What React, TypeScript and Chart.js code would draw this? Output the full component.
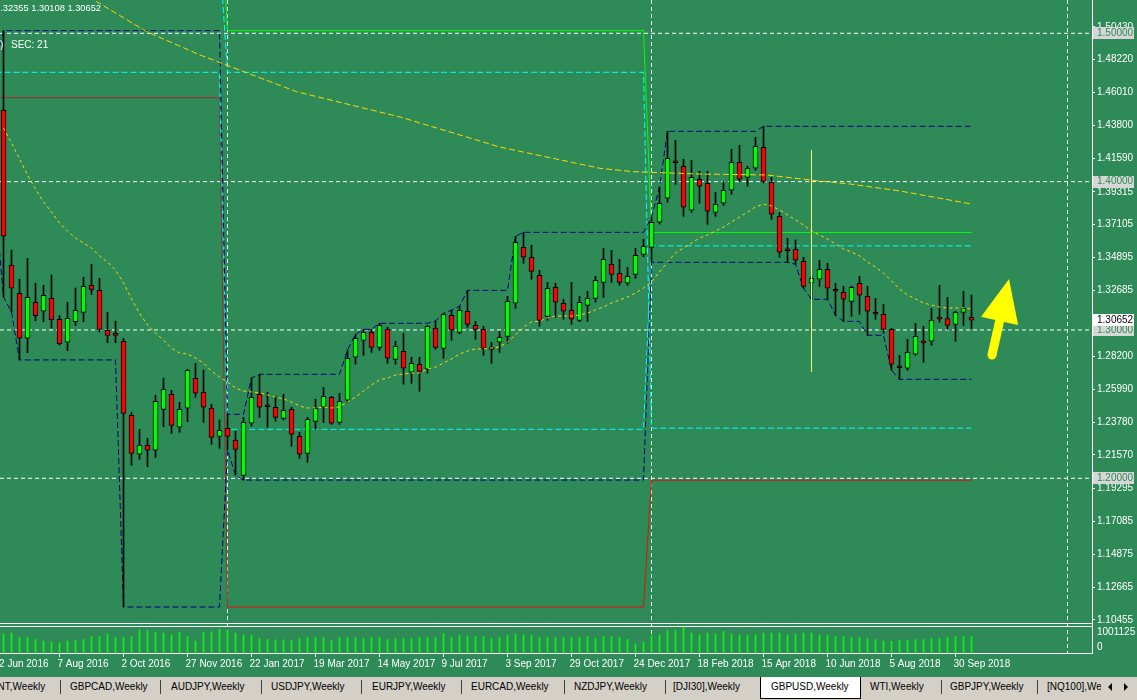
import React, { useEffect, useRef } from "react";
import { Chart, registerables } from "chart.js";

Chart.register(...registerables);

const BG = "#2E8B57";
const FONT = "'Liberation Sans', Arial, sans-serif";

// GBPUSD weekly candles, first visible bar = week of 19 Jun 2016
const opens = [1.4483,1.3438,1.3247,1.2944,1.3187,1.3126,1.3213,1.3072,1.2917,1.3056,
1.3119,1.3301,1.3267,1.2998,1.2971,1.2924,1.2425,1.2162,1.2222,1.2189,
1.2465,1.2566,1.2344,1.2472,1.2674,1.2580,1.2472,1.2283,1.2337,1.2256,
1.2020,1.2371,1.2566,1.2489,1.2479,1.2404,1.2465,1.2283,1.2168,1.2384,
1.2479,1.2546,1.2377,1.2526,1.2816,1.2930,1.2984,1.2883,1.3004,1.2802,
1.2856,1.2715,1.2769,1.2735,1.3011,1.2876,1.3099,1.2984,1.3126,1.3031,
1.3004,1.2875,1.2917,1.2957,1.3180,1.3557,1.3490,1.3369,1.3092,1.3288,
1.3180,1.3133,1.3065,1.3166,1.3213,1.3321,1.3443,1.3382,1.3315,1.3375,
1.3510,1.3557,1.3726,1.3888,1.4134,1.4103,1.3807,1.4016,1.3989,1.3793,
1.3854,1.3942,1.4130,1.4029,1.4090,1.4231,1.3996,1.3766,1.3540,1.3544,
1.3463,1.3315,1.3342,1.3409,1.3274,1.3254,1.3193,1.3315,1.3227,1.3119,
1.3106,1.3004,1.2752,1.2742,1.2836,1.2920,1.2924,1.3079,1.3076,1.3038,
1.3119,1.30855];
const highs = [1.5018,1.3539,1.3342,1.3483,1.3315,1.3301,1.3371,1.3099,1.3187,1.3283,
1.3355,1.3443,1.3348,1.3119,1.3060,1.2944,1.2445,1.2330,1.2270,1.2560,
1.2676,1.2593,1.2512,1.2735,1.2775,1.2730,1.2499,1.2393,1.2431,1.2317,
1.2411,1.2676,1.2701,1.2580,1.2553,1.2566,1.2479,1.2310,1.2411,1.2533,
1.2613,1.2553,1.2573,1.2865,1.2971,1.3004,1.3004,1.3045,1.3018,1.2924,
1.2977,1.2816,1.2816,1.3031,1.3060,1.3112,1.3133,1.3160,1.3267,1.3058,
1.3025,1.2917,1.2991,1.3227,1.3631,1.3658,1.3571,1.3402,1.3321,1.3315,
1.3207,1.3321,1.3227,1.3261,1.3362,1.3551,1.3537,1.3476,1.3422,1.3551,
1.3611,1.3760,1.3962,1.4339,1.4279,1.4151,1.4144,1.4070,1.4070,1.3928,
1.4002,1.4218,1.4245,1.4103,1.4299,1.4373,1.4029,1.3793,1.3618,1.3607,
1.3490,1.3362,1.3470,1.3449,1.3315,1.3294,1.3296,1.3362,1.3294,1.3213,
1.3173,1.3011,1.2829,1.2937,1.3045,1.3025,1.3146,1.3301,1.3220,1.3126,
1.3261,1.32355];
const lows = [1.3222,1.3121,1.2798,1.2847,1.3062,1.3056,1.3013,1.2899,1.2860,1.3029,
1.3056,1.3238,1.2986,1.2914,1.2914,1.1132,1.2088,1.2128,1.2078,1.2141,
1.2348,1.2303,1.2310,1.2382,1.2546,1.2377,1.2229,1.2202,1.2191,1.2022,
1.1988,1.2353,1.2411,1.2344,1.2384,1.2393,1.2216,1.2135,1.2108,1.2330,
1.2375,1.2364,1.2364,1.2512,1.2769,1.2829,1.2849,1.2863,1.2775,1.2769,
1.2634,1.2640,1.2586,1.2708,1.2870,1.2809,1.2930,1.2973,1.3018,1.2937,
1.2829,1.2775,1.2849,1.2910,1.3146,1.3449,1.3342,1.3025,1.3065,1.3085,
1.3072,1.3038,1.3056,1.3058,1.3187,1.3220,1.3321,1.3301,1.3301,1.3348,
1.3494,1.3456,1.3714,1.3861,1.3982,1.3766,1.3793,1.3854,1.3712,1.3766,
1.3840,1.3915,1.4002,1.3969,1.4076,1.3991,1.3746,1.3490,1.3456,1.3443,
1.3281,1.3207,1.3294,1.3207,1.3099,1.3058,1.3092,1.3106,1.2964,1.3072,
1.2977,1.2728,1.2667,1.2728,1.2829,1.2782,1.2897,1.3052,1.3004,1.2924,
1.3031,1.30108];
const closes = [1.3633,1.3281,1.2944,1.3220,1.3096,1.3234,1.3069,1.2907,1.3079,1.3133,
1.3294,1.3274,1.3004,1.2964,1.2964,1.2438,1.2168,1.2222,1.2189,1.2519,
1.2600,1.2357,1.2465,1.2728,1.2573,1.2479,1.2276,1.2324,1.2283,1.2195,
1.2377,1.2546,1.2479,1.2482,1.2411,1.2458,1.2297,1.2162,1.2398,1.2472,
1.2553,1.2371,1.2519,1.2809,1.2944,1.2984,1.2883,1.3031,1.2809,1.2890,
1.2742,1.2775,1.2721,1.3025,1.2883,1.3106,1.2998,1.3133,1.3038,1.3004,
1.2876,1.2868,1.2951,1.3193,1.3591,1.3490,1.3395,1.3065,1.3281,1.3187,
1.3126,1.3072,1.3187,1.3213,1.3335,1.3476,1.3375,1.3321,1.3362,1.3503,
1.3564,1.3726,1.3854,1.4157,1.4127,1.3827,1.4029,1.3969,1.3800,1.3847,
1.3942,1.4130,1.4016,1.4090,1.4238,1.4002,1.3780,1.3524,1.3534,1.3470,
1.3294,1.3348,1.3409,1.3281,1.3261,1.3207,1.3288,1.3234,1.3126,1.3106,
1.3004,1.2769,1.2745,1.2849,1.2957,1.2913,1.3065,1.3073,1.3031,1.3119,
1.3146,1.30652];
const volumes = [702,742,580,580,500,445,405,378,445,459,
500,607,607,702,567,567,607,850,837,770,
742,675,770,607,445,770,783,877,837,742,
675,648,540,513,486,486,459,540,580,580,
567,459,567,567,567,540,580,580,500,540,
540,540,567,580,580,715,580,648,634,607,
607,540,567,648,702,675,648,580,580,567,
567,567,580,607,540,607,607,567,513,337,
405,648,675,837,837,985,742,675,742,702,
810,702,675,648,675,742,742,742,675,702,
742,742,675,648,607,607,567,567,540,500,
445,432,472,472,500,500,540,540,580,607,
607,607].map((k) => k * 1000);

// fast moving average (per bar) and slow moving average (sampled points)
const fastMA = [1.4362,1.4260,1.4153,1.4045,1.3950,1.3863,1.3795,1.3721,1.3667,1.3620,
1.3586,1.3553,1.3499,1.3458,1.3404,1.3317,1.3209,1.3114,1.3033,1.2979,
1.2932,1.2878,1.2845,1.2838,1.2811,1.2777,1.2723,1.2683,1.2649,1.2609,
1.2588,1.2582,1.2575,1.2562,1.2548,1.2535,1.2514,1.2487,1.2474,1.2474,
1.2481,1.2474,1.2481,1.2514,1.2548,1.2588,1.2629,1.2663,1.2676,1.2696,
1.2703,1.2710,1.2710,1.2737,1.2750,1.2777,1.2804,1.2838,1.2858,1.2872,
1.2872,1.2878,1.2885,1.2919,1.2966,1.3020,1.3054,1.3060,1.3081,1.3094,
1.3094,1.3094,1.3101,1.3114,1.3135,1.3155,1.3182,1.3202,1.3222,1.3249,
1.3283,1.3323,1.3391,1.3458,1.3519,1.3553,1.3586,1.3620,1.3640,1.3667,
1.3694,1.3728,1.3762,1.3795,1.3829,1.3849,1.3836,1.3809,1.3775,1.3741,
1.3708,1.3667,1.3640,1.3613,1.3580,1.3546,1.3526,1.3499,1.3458,1.3424,
1.3384,1.3330,1.3276,1.3236,1.3209,1.3182,1.3168,1.3155,1.3148,1.3148,
1.3148,1.3141];
const slowMaBars = [5.8, 11.65, 17.9, 24.56, 36.65, 49.56, 62.06, 74.56, 78.7, 87.06, 95.4, 101.65, 105.8, 112.06, 121];
const slowMaValues = [1.5407, 1.5213, 1.5011, 1.4854, 1.4606, 1.4436, 1.4233, 1.4090, 1.4067, 1.4051, 1.4045, 1.4006, 1.3984, 1.3937, 1.3849];

// yearly levels (2016, 2017, 2018)
const yearStartBars = [0, 28, 81];
const yearSeparatorBars = [28, 81, 133];
const prevYearHigh = [1.5930, 1.5018, 1.3657];
const prevYearLow = [1.4566, 1.1132, 1.1987];
const prevYearOpen = [1.5547, 1.4737, 1.2338];
const prevYearClose = [1.4737, 1.2330, 1.3567];
const ytdHighBefore = 1.4740;
const ytdLowBefore = 1.3835;

const levelLines = [1.5, 1.4, 1.3, 1.2];
const bidPrice = 1.30652;
const priceTicks = [1.50430, 1.48220, 1.46010, 1.43800, 1.41590, 1.39315, 1.37105, 1.34895, 1.32685, 1.30475, 1.28200, 1.25990, 1.23780, 1.21570, 1.19295, 1.17085, 1.14875, 1.12665, 1.10455];
const dateTickBars = [-1, 7, 15, 23, 31, 39, 47, 55, 63, 71, 79, 87, 95, 103, 111, 119];
const dateTickLabels = ["12 Jun 2016", "7 Aug 2016", "2 Oct 2016", "27 Nov 2016", "22 Jan 2017", "19 Mar 2017", "14 May 2017", "9 Jul 2017", "3 Sep 2017", "29 Oct 2017", "24 Dec 2017", "18 Feb 2018", "15 Apr 2018", "10 Jun 2018", "5 Aug 2018", "30 Sep 2018"];
const volumeMaxLabel = 1001125;
const markerBar = 101;
const markerTop = 1.4213;
const markerBottom = 1.2719;
const arrowTail = { bar: 123.56, price: 1.2831 };
const arrowTip = { bar: 125.69, price: 1.3344 };
const symbolLabel = "GBPUSD,Weekly";
const countdownLabel = "SEC: 21";

const tabLabels = ["BRENT,Weekly", "GBPCAD,Weekly", "AUDJPY,Weekly", "USDJPY,Weekly", "EURJPY,Weekly", "EURCAD,Weekly", "NZDJPY,Weekly", "[DJI30],Weekly", "GBPUSD,Weekly", "WTI,Weekly", "GBPJPY,Weekly", "[NQ100],Weekly"];
const tabLefts = [-23, 70, 171, 271, 372, 471, 574, 673, 771, 870, 950, 1047];
const activeTab = 8;
const tabSeparators = [60, 160, 261, 361, 461, 564, 665, 941, 1037];

// layout of the plot (bar index / price window)
const X_MIN = -0.4375;
const X_MAX = 136.0625;
const Y_MIN = 1.08221;
const Y_MAX = 1.52245;
const VOLUME_PANE_FRACTION = 27 / 653;
const CANVAS_H = 677;

export default function App() {
  const ref = useRef<HTMLCanvasElement>(null);

  useEffect(() => {
    const canvas = ref.current!;
    const n = opens.length;
    const yearOf = (i: number) => {
      let y = 0;
      for (let k = 0; k < yearStartBars.length; k++) if (i >= yearStartBars[k]) y = k;
      return y;
    };
    const yearly = (arr: number[]) => {
      const pts: { x: number; y: number }[] = [{ x: -1, y: arr[0] }];
      for (let i = 0; i < n; i++) pts.push({ x: i, y: arr[yearOf(i)] });
      return pts;
    };
    const runHigh: { x: number; y: number }[] = [{ x: -1, y: ytdHighBefore }];
    const runLow: { x: number; y: number }[] = [{ x: -1, y: ytdLowBefore }];
    let hi = ytdHighBefore;
    let lo = ytdLowBefore;
    for (let i = 0; i < n; i++) {
      if (i !== 0 && yearStartBars.includes(i)) {
        hi = highs[i];
        lo = lows[i];
      } else {
        hi = Math.max(hi, highs[i]);
        lo = Math.min(lo, lows[i]);
      }
      runHigh.push({ x: i, y: hi });
      runLow.push({ x: i, y: lo });
    }

    const lineBase = { type: "line" as const, pointRadius: 0, borderWidth: 1, fill: false, tension: 0 };

    const datasets: any[] = [];
    levelLines.forEach((v) =>
      datasets.push({ ...lineBase, data: [{ x: X_MIN, y: v }, { x: X_MAX, y: v }], borderColor: "#FFFFFF", borderDash: [4, 3], order: 100 })
    );
    datasets.push({ ...lineBase, data: yearly(prevYearOpen), borderColor: "#00FFFF", borderDash: [6, 3], order: 80 });
    datasets.push({ ...lineBase, data: yearly(prevYearClose), borderColor: "#00FFFF", borderDash: [6, 3], order: 80 });
    datasets.push({ ...lineBase, data: yearly(prevYearHigh), borderColor: "#00FF00", order: 80 });
    datasets.push({
      ...lineBase,
      data: yearly(prevYearLow),
      borderColor: "#E01010",
      segment: { borderColor: (c: any) => (c.p0DataIndex <= yearStartBars[1] ? "#A52A2A" : "#E01010") },
      order: 80,
    });
    datasets.push({ ...lineBase, data: runHigh, borderColor: "#000080", borderDash: [6, 3], order: 70 });
    datasets.push({ ...lineBase, data: runLow, borderColor: "#000080", borderDash: [6, 3], order: 70 });
    datasets.push({
      type: "bar",
      data: volumes.map((v, i) => ({ x: i, y: v })),
      yAxisID: "yv",
      backgroundColor: "#00FF00",
      barThickness: 1,
      grouped: false,
      order: 60,
    });
    datasets.push({
      type: "bar",
      data: lows.map((l, i) => ({ x: i, y: [l, highs[i]] })),
      backgroundColor: "#000000",
      barThickness: 1,
      grouped: false,
      order: 40,
    });
    datasets.push({
      type: "bar",
      data: opens.map((o, i) => ({ x: i, y: [o, closes[i]] })),
      backgroundColor: opens.map((o, i) => (closes[i] >= o ? "#00FF00" : "#FF0000")),
      borderColor: "#000000",
      borderWidth: 1,
      borderSkipped: false,
      minBarLength: 2,
      barThickness: 5,
      grouped: false,
      order: 30,
    });
    datasets.push({ ...lineBase, data: fastMA.map((v, i) => ({ x: i, y: v })), borderColor: "#FFD700", borderDash: [3, 3], order: 20 });
    datasets.push({ ...lineBase, data: slowMaBars.map((b, i) => ({ x: b, y: slowMaValues[i] })), borderColor: "#FFD700", borderDash: [6, 3], order: 20 });
    datasets.push({ ...lineBase, data: [{ x: markerBar, y: markerTop }, { x: markerBar, y: markerBottom }], borderColor: "#F4F47C", order: 10 });

    const overlay = {
      id: "mt4Overlay",
      beforeDraw(chart: any) {
        const { ctx, width, height } = chart;
        ctx.save();
        ctx.fillStyle = BG;
        ctx.fillRect(0, 0, width, height);
        ctx.restore();
      },
      beforeDatasetsDraw(chart: any) {
        const { ctx, chartArea, scales } = chart;
        ctx.save();
        ctx.strokeStyle = "#FFFFFF";
        ctx.lineWidth = 1;
        ctx.setLineDash([4, 3]);
        for (const b of yearSeparatorBars) {
          const px = Math.floor(scales.x.getPixelForValue(b)) + 0.5;
          ctx.beginPath();
          ctx.moveTo(px, chartArea.top);
          ctx.lineTo(px, chartArea.bottom);
          ctx.stroke();
        }
        ctx.restore();
      },
      afterDatasetsDraw(chart: any) {
        const { ctx, chartArea, scales } = chart;
        const volTop = Math.round(scales.yv.getPixelForValue(volumeMaxLabel));
        ctx.save();
        ctx.strokeStyle = "#FFFFFF";
        ctx.lineWidth = 1;
        ctx.beginPath();
        ctx.moveTo(chartArea.left, volTop + 0.5);
        ctx.lineTo(chartArea.right, volTop + 0.5);
        ctx.moveTo(chartArea.left, volTop - 2.5);
        ctx.lineTo(chartArea.right, volTop - 2.5);
        ctx.stroke();
        // arrow
        const sx = scales.x.getPixelForValue(arrowTail.bar);
        const sy = scales.y.getPixelForValue(arrowTail.price);
        const tx = scales.x.getPixelForValue(arrowTip.bar);
        const ty = scales.y.getPixelForValue(arrowTip.price);
        const len = Math.hypot(tx - sx, ty - sy);
        const dx = (tx - sx) / len;
        const dy = (ty - sy) / len;
        const px = -dy;
        const py = dx;
        const headLen = 43;
        const headHalf = 19;
        const shaftHalf = 4.5;
        const bx = tx - dx * headLen;
        const by = ty - dy * headLen;
        ctx.fillStyle = "#FFFF00";
        ctx.beginPath();
        ctx.moveTo(sx + px * shaftHalf, sy + py * shaftHalf);
        ctx.lineTo(bx + px * shaftHalf, by + py * shaftHalf);
        ctx.lineTo(bx + px * headHalf, by + py * headHalf);
        ctx.lineTo(tx, ty);
        ctx.lineTo(bx - px * headHalf, by - py * headHalf);
        ctx.lineTo(bx - px * shaftHalf, by - py * shaftHalf);
        ctx.lineTo(sx - px * shaftHalf, sy - py * shaftHalf);
        ctx.closePath();
        ctx.fill();
        ctx.beginPath();
        ctx.arc(sx, sy, shaftHalf, 0, Math.PI * 2);
        ctx.fill();
        ctx.restore();
      },
      afterDraw(chart: any) {
        const { ctx, chartArea, scales } = chart;
        ctx.save();
        ctx.font = `10px ${FONT}`;
        ctx.textBaseline = "middle";
        ctx.textAlign = "left";
        const bx = chartArea.right + 1;
        const tx = chartArea.right + 5;
        for (const v of levelLines) {
          const py = scales.y.getPixelForValue(v);
          ctx.fillStyle = "#D6D6D6";
          ctx.fillRect(bx, Math.round(py) - 6, 41, 12);
          ctx.fillStyle = BG;
          ctx.fillText(v.toFixed(5), tx, py);
        }
        const bp = scales.y.getPixelForValue(bidPrice);
        ctx.fillStyle = "#FFFFFF";
        ctx.fillRect(bx, Math.round(bp) - 6, 41, 12);
        ctx.fillStyle = "#000000";
        ctx.fillText(bidPrice.toFixed(5), tx, bp);
        // volume pane labels
        const vTop = scales.yv.getPixelForValue(volumeMaxLabel);
        const vBot = scales.yv.getPixelForValue(0);
        ctx.fillStyle = "#FFFFFF";
        ctx.fillText(String(volumeMaxLabel), tx, vTop + 6.5);
        ctx.fillText("0", tx, vBot - 5.5);
        // header texts
        const last = n - 1;
        ctx.font = `9.3px ${FONT}`;
        ctx.textAlign = "right";
        ctx.fillText(
          `${symbolLabel}  ${opens[last].toFixed(5)} ${highs[last].toFixed(5)} ${lows[last].toFixed(5)} ${closes[last].toFixed(5)}`,
          101,
          8
        );
        ctx.font = `10px ${FONT}`;
        ctx.textAlign = "left";
        ctx.fillText(")", 0, 45);
        ctx.fillText(countdownLabel, 11, 45);
        ctx.restore();
      },
    };

    const chart = new Chart(canvas, {
      type: "bar",
      data: { datasets },
      plugins: [overlay],
      options: {
        animation: false,
        responsive: false,
        devicePixelRatio: 1,
        events: [],
        layout: { padding: 0 },
        plugins: { legend: { display: false }, tooltip: { enabled: false }, title: { display: false } },
        scales: {
          x: {
            type: "linear",
            position: "bottom",
            min: X_MIN,
            max: X_MAX,
            offset: false,
            afterBuildTicks: (s: any) => {
              s.ticks = dateTickBars.map((v) => ({ value: v }));
            },
            afterFit: (s: any) => {
              s.height = 24;
              s.paddingLeft = 0;
              s.paddingRight = 0;
            },
            ticks: {
              autoSkip: false,
              maxRotation: 0,
              minRotation: 0,
              align: "start",
              labelOffset: -2,
              padding: 1,
              color: "#FFFFFF",
              font: { family: FONT, size: 10 },
              callback: (_v: any, idx: number) => dateTickLabels[idx],
            },
            grid: { offset: false, drawOnChartArea: false, drawTicks: true, tickLength: 4, color: "#FFFFFF", lineWidth: 1 },
            border: { display: true, color: "#FFFFFF", width: 1 },
          },
          y: {
            type: "linear",
            position: "right",
            min: Y_MIN,
            max: Y_MAX,
            afterBuildTicks: (s: any) => {
              s.ticks = priceTicks.map((v) => ({ value: v }));
            },
            afterFit: (s: any) => {
              s.width = 45;
              s.paddingTop = 0;
              s.paddingBottom = 0;
            },
            ticks: {
              autoSkip: false,
              padding: 2,
              color: "#FFFFFF",
              font: { family: FONT, size: 10 },
              callback: (v: any) => Number(v).toFixed(5),
            },
            grid: { drawOnChartArea: false, drawTicks: true, tickLength: 3, color: "#FFFFFF" },
            border: { display: true, color: "#FFFFFF", width: 1 },
          },
          yv: {
            type: "linear",
            position: "right",
            display: false,
            min: 0,
            max: volumeMaxLabel / VOLUME_PANE_FRACTION,
          },
        },
      } as any,
    });
    return () => chart.destroy();
  }, []);

  return (
    <div style={{ position: "fixed", left: 0, top: 0, width: 1137, height: 700, background: "#D4D0C8", overflow: "hidden" }}>
      <canvas ref={ref} width={1137} height={CANVAS_H} style={{ display: "block", width: 1137, height: CANVAS_H }} />
      <div
        style={{
          position: "absolute",
          left: 0,
          top: CANVAS_H,
          width: 1137,
          height: 700 - CANVAS_H,
          background: "#D4D0C8",
          fontFamily: FONT,
          fontSize: 10,
          color: "#000",
        }}
      >
        <div
          style={{
            position: "absolute",
            left: 760,
            top: 0,
            width: 99,
            height: 21,
            background: "#FFFFFF",
            borderLeft: "1px solid #000",
            borderRight: "1px solid #000",
            borderBottom: "1px solid #000",
          }}
        />
        {tabSeparators.map((x, i) => (
          <div key={"s" + i} style={{ position: "absolute", left: x, top: 3, width: 1, height: 14, background: "#404040" }} />
        ))}
        <div style={{ position: "absolute", left: 0, top: 0, width: 1101, height: 23, overflow: "hidden" }}>
          {tabLabels.map((t, i) => (
            <span
              key={t}
              style={{
                position: "absolute",
                left: tabLefts[i],
                top: 0,
                lineHeight: "20px",
                whiteSpace: "nowrap",
                fontWeight: i === activeTab ? 400 : 400,
              }}
            >
              {t}
            </span>
          ))}
        </div>
        <div style={{ position: "absolute", left: 1108, top: 6, width: 0, height: 0, borderTop: "4px solid transparent", borderBottom: "4px solid transparent", borderRight: "4px solid #000" }} />
        <div style={{ position: "absolute", left: 1124, top: 6, width: 0, height: 0, borderTop: "4px solid transparent", borderBottom: "4px solid transparent", borderLeft: "4px solid #000" }} />
      </div>
    </div>
  );
}
